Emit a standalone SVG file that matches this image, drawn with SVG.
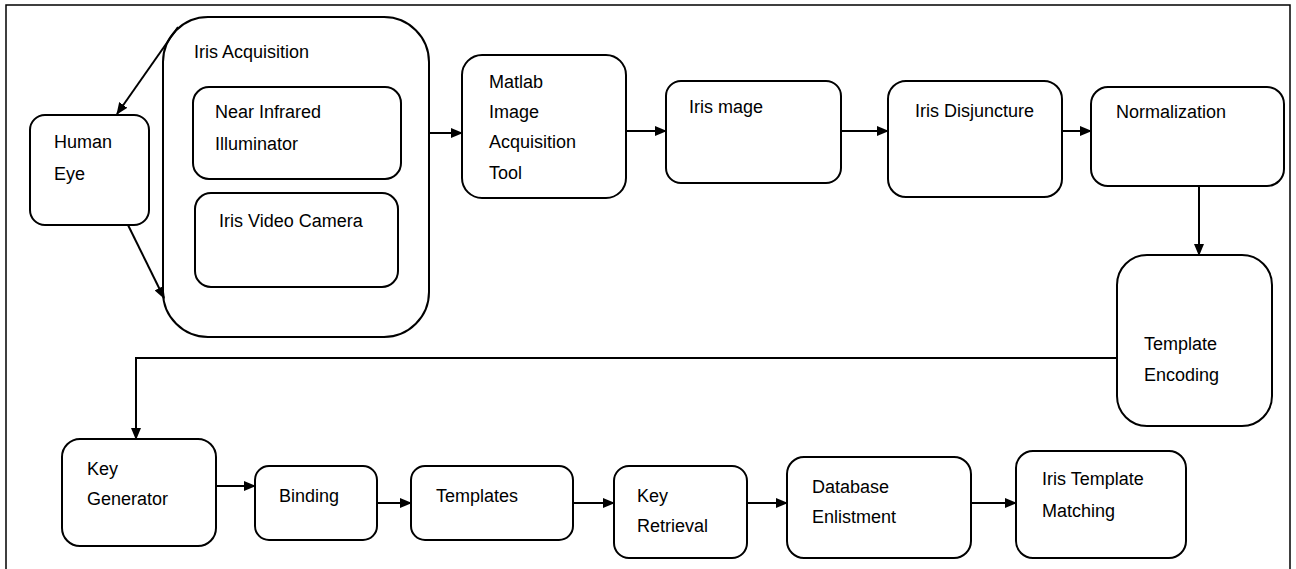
<svg xmlns="http://www.w3.org/2000/svg" width="1296" height="569" viewBox="0 0 1296 569">
<style>
.box{fill:#fff;stroke:#000;stroke-width:2}
.t{font-family:"Liberation Sans",Arial,sans-serif;font-size:18px;fill:#000}
.c{fill:none;stroke:#000;stroke-width:2}
</style>
<defs>
<marker id="ah" markerUnits="userSpaceOnUse" markerWidth="12" markerHeight="10" refX="11" refY="5" orient="auto">
<path d="M0,0 L12,5 L0,10 Z" fill="#000"/>
</marker>
</defs>
<rect width="1296" height="569" fill="#fff"/>
<rect x="6" y="5" width="1284" height="600" fill="none" stroke="#000" stroke-width="1.5"/>

<g id="iris-acquisition">
<rect class="box" x="163" y="17" width="266" height="320" rx="45"/>
<text class="t" x="194" y="58">Iris Acquisition</text>
</g>
<g id="near-infrared">
<rect class="box" x="193" y="87" width="208" height="92" rx="16"/>
<text class="t" x="215" y="118">Near Infrared</text>
<text class="t" x="215" y="150">Illuminator</text>
</g>
<g id="iris-video-camera">
<rect class="box" x="195" y="193" width="203" height="94" rx="16"/>
<text class="t" x="219" y="227">Iris Video Camera</text>
</g>
<g id="human-eye">
<rect class="box" x="30" y="115" width="119" height="110" rx="15"/>
<text class="t" x="54" y="148">Human</text>
<text class="t" x="54" y="180">Eye</text>
</g>
<g id="matlab">
<rect class="box" x="462" y="55" width="164" height="143" rx="20"/>
<text class="t" x="489" y="88">Matlab</text>
<text class="t" x="489" y="118">Image</text>
<text class="t" x="489" y="148">Acquisition</text>
<text class="t" x="489" y="179">Tool</text>
</g>
<g id="iris-mage">
<rect class="box" x="666" y="81" width="175" height="102" rx="15"/>
<text class="t" x="689" y="113">Iris mage</text>
</g>
<g id="iris-disjuncture">
<rect class="box" x="888" y="81" width="174" height="116" rx="18"/>
<text class="t" x="915" y="117">Iris Disjuncture</text>
</g>
<g id="normalization">
<rect class="box" x="1091" y="87" width="193" height="99" rx="17"/>
<text class="t" x="1116" y="118">Normalization</text>
</g>
<g id="template-encoding">
<rect class="box" x="1117" y="255" width="155" height="171" rx="30"/>
<text class="t" x="1144" y="350">Template</text>
<text class="t" x="1144" y="381">Encoding</text>
</g>
<g id="key-generator">
<rect class="box" x="62" y="439" width="154" height="107" rx="18"/>
<text class="t" x="87" y="475">Key</text>
<text class="t" x="87" y="505">Generator</text>
</g>
<g id="binding">
<rect class="box" x="255" y="466" width="122" height="74" rx="14"/>
<text class="t" x="279" y="502">Binding</text>
</g>
<g id="templates">
<rect class="box" x="411" y="466" width="162" height="74" rx="14"/>
<text class="t" x="436" y="502">Templates</text>
</g>
<g id="key-retrieval">
<rect class="box" x="614" y="466" width="133" height="92" rx="15"/>
<text class="t" x="637" y="502">Key</text>
<text class="t" x="637" y="532">Retrieval</text>
</g>
<g id="database-enlistment">
<rect class="box" x="787" y="457" width="184" height="101" rx="17"/>
<text class="t" x="812" y="493">Database</text>
<text class="t" x="812" y="523">Enlistment</text>
</g>
<g id="iris-template-matching">
<rect class="box" x="1016" y="451" width="170" height="107" rx="17"/>
<text class="t" x="1042" y="485">Iris Template</text>
<text class="t" x="1042" y="517">Matching</text>
</g>

<g id="connectors">
<line class="c" x1="178" y1="27" x2="117" y2="114" marker-end="url(#ah)"/>
<line class="c" x1="128" y1="225" x2="164" y2="298" marker-end="url(#ah)"/>
<line class="c" x1="429" y1="133" x2="462" y2="133" marker-end="url(#ah)"/>
<line class="c" x1="626" y1="131" x2="666" y2="131" marker-end="url(#ah)"/>
<line class="c" x1="841" y1="131" x2="888" y2="131" marker-end="url(#ah)"/>
<line class="c" x1="1062" y1="131" x2="1091" y2="131" marker-end="url(#ah)"/>
<line class="c" x1="1199" y1="186" x2="1199" y2="255" marker-end="url(#ah)"/>
<polyline class="c" points="1117,358 136,358 136,439" marker-end="url(#ah)"/>
<line class="c" x1="216" y1="486" x2="255" y2="486" marker-end="url(#ah)"/>
<line class="c" x1="377" y1="503" x2="411" y2="503" marker-end="url(#ah)"/>
<line class="c" x1="573" y1="503" x2="614" y2="503" marker-end="url(#ah)"/>
<line class="c" x1="747" y1="503" x2="787" y2="503" marker-end="url(#ah)"/>
<line class="c" x1="971" y1="503" x2="1016" y2="503" marker-end="url(#ah)"/>
</g>
</svg>
